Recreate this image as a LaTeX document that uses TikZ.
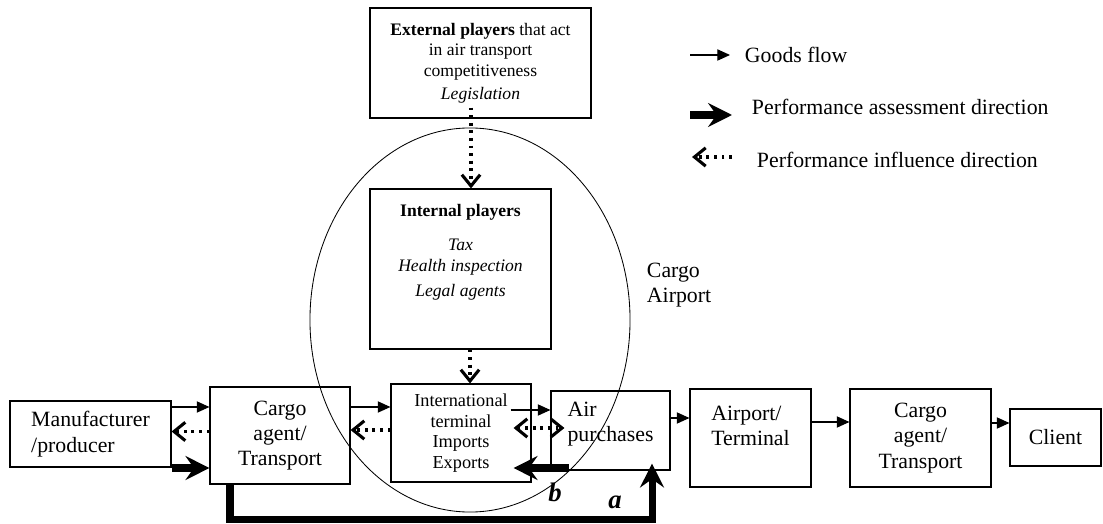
\documentclass[tikz,border=0pt]{standalone}
\usepackage{fontspec}
\setmainfont{Liberation Serif}
\usetikzlibrary{arrows.meta, positioning, shapes.geometric}

\begin{document}
\begin{tikzpicture}[
		x=0.025cm, y=-0.025cm,
		every node/.style={font=\fontsize{15.5}{18}\selectfont},
		box/.style={draw, line width=0.8pt, align=center},
		small/.style={font=\fontsize{12.5}{14.6}\selectfont},
		flow/.style={-{Triangle[length=9pt, width=8pt]}, line width=0.8pt},
		assess/.style={-{Stealth[length=17pt, width=17pt, inset=6pt]}, line width=5pt},
		influence/.style={-{Straight Barb[length=8pt, width=13pt]}, line width=2.2pt, dash pattern=on 2pt off 3.4pt},
		both/.style={{Straight Barb[length=8pt, width=13pt]}-{Straight Barb[length=8pt, width=13pt]}, line width=2.2pt, dash pattern=on 2pt off 3.4pt},
		letter/.style={font=\fontsize{19}{21}\selectfont\bfseries\itshape}
	]

	\useasboundingbox (0,0) rectangle (1103,524);

	% Airport ellipse
	\node[draw, ellipse, line width=0.6pt, minimum width=8cm, minimum height=9.6cm] (cargo) at (470,320) {};
	\node[align=left, anchor=west] (cargolabel) at (642,285) {Cargo\\Airport};

	% Players
	\node[box, small, minimum width=5.525cm, minimum height=2.75cm] (ext) at (480.5,63)
		{\textbf{External players} that act\\in air transport\\competitiveness\\[2pt]\textit{Legislation}};
	\node[box, small, minimum width=4.525cm, minimum height=4cm] (inner) at (460.5,269)
		{\textbf{Internal players}\\[10pt]\textit{Tax}\\\textit{Health inspection}\\[3pt]\textit{Legal agents}\rule[-27pt]{0pt}{27pt}};

	% Chain of boxes
	\node[box, align=left, minimum width=4.025cm, minimum height=1.65cm] (maker) at (90.5,434) {Manufacturer\\/producer};
	\node[box, minimum width=3.5cm, minimum height=2.425cm] (agentA) at (280,435.5) {Cargo\\agent/\\Transport};
	\node[box, font=\fontsize{13}{14.7}\selectfont, minimum width=3.5cm, minimum height=2.45cm] (term) at (461,433)
		{International\\terminal\\Imports\\Exports};
	\node[box, align=left, minimum width=2.975cm, minimum height=1.975cm] (air) at (610.5,430.5) {Air\\purchases\rule[-12pt]{0pt}{12pt}};
	\node[box, align=left, minimum width=3.025cm, minimum height=2.45cm] (apt) at (750.5,438) {Airport/\\Terminal\rule[-17pt]{0pt}{17pt}};
	\node[box, minimum width=3.525cm, minimum height=2.45cm] (agentB) at (920.5,438) {Cargo\\agent/\\Transport};
	\node[box, minimum width=2.275cm, minimum height=1.425cm] (client) at (1055.5,437.5) {Client};

	% Influence from the players
	\draw[influence] ([xshift=-0.2375cm, yshift=0.275cm]ext.south) -- ([xshift=-0.2375cm]ext.south |- inner.north);
	\draw[influence] ([xshift=0.2375cm]inner.south) -- ([xshift=0.2375cm]inner.south |- term.north);

	% Goods flow
	\draw[flow] ([yshift=0.675cm]maker.east) -- ([yshift=0.675cm]maker.east -| agentA.west);
	\draw[flow] ([yshift=0.7125cm]agentA.east) -- ([yshift=0.7125cm]agentA.east -| term.west);
	\draw[flow] ([xshift=-0.525cm, yshift=0.575cm]term.east) -- ([yshift=0.575cm]term.east -| air.west);
	\draw[flow] ([yshift=0.3125cm]air.east) -- ([yshift=0.3125cm]air.east -| apt.west);
	\draw[flow] ([yshift=0.4cm]apt.east) -- ([yshift=0.4cm]apt.east -| agentB.west);
	\draw[flow] ([yshift=0.375cm]agentB.east) -- ([yshift=0.375cm]agentB.east -| client.west);

	% Influence back along the chain
	\draw[influence] ([yshift=0.1cm]agentA.west) -- ([yshift=0.1cm]agentA.west -| maker.east);
	\draw[influence] ([yshift=0.075cm]term.west) -- ([yshift=0.075cm]term.west -| agentA.east);
	\draw[both] ([xshift=-0.45cm, yshift=0.125cm]term.east) -- ([xshift=0.35cm, yshift=0.125cm]term.east -| air.west);

	% Performance assessment
	\draw[assess] ([yshift=-0.85cm]maker.east) -- ([yshift=-0.85cm]maker.east -| agentA.west);
	\draw[assess] ([xshift=0.475cm, yshift=-0.875cm]air.west |- term.east) -- ([xshift=-0.45cm, yshift=-0.875cm]term.east);
	\draw[assess] ([xshift=-1.25cm]agentA.south) -- ++(0,35) -| ([xshift=1.0375cm, yshift=0.175cm]air.south);
	\node[letter] (lblB) at (555,492) {b};
	\node[letter] (lblA) at (615,502) {a};

	% Legend
	\coordinate (flowA) at (690,55);
	\coordinate (flowB) at (730,55);
	\draw[flow] (flowA) -- (flowB);
	\node[anchor=west] (flowtext) at (740,55) {Goods flow};
	\coordinate (assessA) at (690,115);
	\coordinate (assessB) at (732,115);
	\draw[assess] (assessA) -- (assessB);
	\node[anchor=west] (assesstext) at (747,107) {Performance assessment direction};
	\coordinate (inflA) at (732,157);
	\coordinate (inflB) at (692,157);
	\draw[influence] (inflA) -- (inflB);
	\node[anchor=west] (infltext) at (752,160) {Performance influence direction};

\end{tikzpicture}
\end{document}
